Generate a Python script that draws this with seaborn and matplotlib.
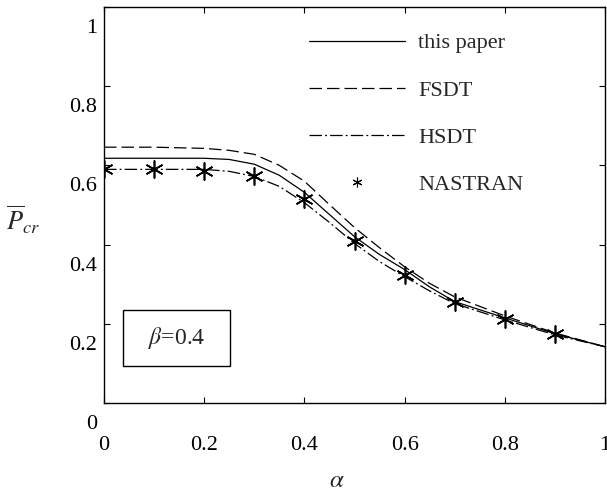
import numpy as np
import seaborn as sns
import matplotlib.pyplot as plt
from matplotlib.lines import Line2D
from matplotlib.patches import Rectangle
from matplotlib.transforms import ScaledTranslation

# buckling load vs alpha, beta = 0.4
alpha = [0, 0.1, 0.2, 0.25, 0.3, 0.35, 0.4, 0.45, 0.5, 0.55, 0.6, 0.65, 0.7, 0.8, 0.9, 1.0]
this_paper = [0.618, 0.618, 0.618, 0.615, 0.603, 0.575, 0.532, 0.476, 0.420, 0.375,
              0.337, 0.293, 0.256, 0.215, 0.175, 0.142]
fsdt = [0.646, 0.646, 0.643, 0.638, 0.628, 0.600, 0.560, 0.501, 0.443, 0.392,
        0.344, 0.302, 0.268, 0.220, 0.177, 0.142]
hsdt = [0.590, 0.590, 0.590, 0.585, 0.572, 0.547, 0.506, 0.456, 0.403, 0.357,
        0.319, 0.283, 0.251, 0.210, 0.172, 0.142]

alpha_pts = [0, 0.1, 0.2, 0.3, 0.4, 0.5, 0.6, 0.7, 0.8, 0.9]
nastran = [0.590, 0.590, 0.585, 0.572, 0.514, 0.408, 0.324, 0.256, 0.213, 0.175]

xticks = [0, 0.2, 0.4, 0.6, 0.8, 1]
yticks = [0, 0.2, 0.4, 0.6, 0.8, 1]
xtick_labels = ['0', '0.2', '0.4', '0.6', '0.8', '1']
ytick_labels = ['0', '0.2', '0.4', '0.6', '0.8', '1']

sns.set_style('ticks')
plt.rcParams['font.family'] = ['Liberation Serif', 'DejaVu Serif']
plt.rcParams['mathtext.fontset'] = 'stix'

fig = plt.figure(figsize=(6.07, 4.96), dpi=100)
ax = fig.add_axes([104 / 607, 1 - 403 / 496, 501 / 607, 396 / 496])

sns.lineplot(x=alpha, y=this_paper, ax=ax, color='k', lw=0.9, label='this paper')
sns.lineplot(x=alpha, y=fsdt, ax=ax, color='k', lw=0.9, linestyle=(0, (10, 4)), label='FSDT')
sns.lineplot(x=alpha, y=hsdt, ax=ax, color='k', lw=0.9, linestyle=(0, (10, 2.5, 1.5, 2.5)),
             label='HSDT')
sns.scatterplot(x=alpha_pts, y=nastran, ax=ax, marker=(6, 2, 0), s=150, color='k',
                linewidth=1.2, legend=False)

ax.set_xlim(0, 1)
ax.set_ylim(0, 1)
ax.set_xticks(xticks)
ax.set_yticks(yticks)
ax.set_xticklabels(xtick_labels)
ax.set_yticklabels(ytick_labels)
ax.tick_params(direction='in', length=4, width=0.8, top=True, right=True, labelsize=16,
               colors='k')
ax.tick_params(axis='x', pad=24)
ax.tick_params(axis='y', pad=5)
for lbl in ax.get_yticklabels():
    lbl.set_transform(lbl.get_transform() + ScaledTranslation(0, -0.19, fig.dpi_scale_trans))
for s in ax.spines.values():
    s.set_linewidth(1.0)
    s.set_color('k')

ax.set_xlabel(r'$\alpha$', fontsize=18, va='center')
ax.xaxis.set_label_coords(0.465, -0.197)
ax.set_ylabel(r'$\overline{P}_{cr}$', fontsize=19, rotation=0, va='center', ha='center')
ax.yaxis.set_label_coords(-0.162, 0.462)

# legend
handles = ax.get_lines()[:3]
star = Line2D([], [], color='k', marker=(6, 2, 0), markersize=7, linestyle='none', mew=0.8)
ax.legend(handles=list(handles) + [star], labels=['this paper', 'FSDT', 'HSDT', 'NASTRAN'],
          loc='upper left', bbox_to_anchor=(0.41, 0.935), frameon=False, fontsize=16,
          handlelength=4.3, handletextpad=0.6, labelspacing=1.2, borderpad=0,
          borderaxespad=0)

# beta box
ax.add_patch(Rectangle((0.038, 0.093), 0.2136, 0.1414, transform=ax.transAxes,
                       fill=False, edgecolor='k', lw=1.0))
ax.text(0.145, 0.164, r'$\beta$=0.4', transform=ax.transAxes, ha='center', va='center',
        fontsize=17)

fig.savefig('out.png', dpi=100)
